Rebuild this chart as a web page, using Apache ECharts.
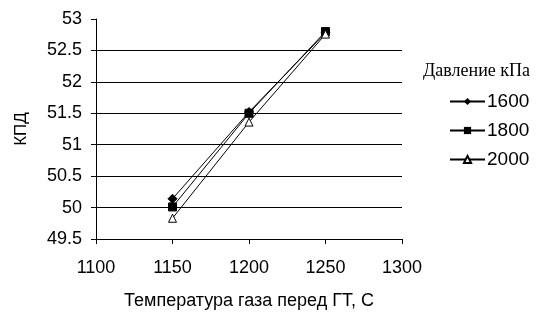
<!DOCTYPE html>
<html>
<head>
<meta charset="utf-8">
<script src="https://cdn.jsdelivr.net/npm/echarts@6/dist/echarts.min.js"></script>
<style>
  html, body { margin: 0; padding: 0; background: #fff; }
  #chart { width: 537px; height: 316px; }
</style>
</head>
<body>
<div id="chart"></div>
<script>
// данные графика
var temps = [1150, 1200, 1250]
var kpd1600 = [50.14, 51.52, 52.78]
var kpd1800 = [50.01, 51.50, 52.80]
var kpd2000 = [49.83, 51.36, 52.76]
var seriesNames = ['1600', '1800', '2000']

function pairs (ys) {
  return temps.map(function (t, i) { return [t, ys[i]] })
}

var myChart = echarts.init(document.getElementById('chart'))
var txt = '#000'
var font = 'Liberation Sans, Arial, sans-serif'

myChart.setOption({
  animation: false,
  grid: { left: 96, right: 135, top: 19, bottom: 77 },
  graphic: [{
    type: 'text',
    left: 423,
    top: 62,
    style: { text: 'Давление кПа', font: '18px "Liberation Serif", "Times New Roman", serif', fill: txt }
  }],
  legend: {
    orient: 'vertical',
    left: 449,
    top: 92,
    padding: 0,
    itemWidth: 35,
    itemHeight: 9,
    itemGap: 10,
    textStyle: { fontFamily: font, fontSize: 19, color: txt, padding: [0, 0, 0, -3] },
    data: seriesNames
  },
  xAxis: {
    type: 'value',
    min: 1100,
    max: 1300,
    interval: 50,
    name: 'Температура газа перед ГТ, С',
    nameLocation: 'middle',
    nameGap: 53,
    nameTextStyle: { fontFamily: font, fontSize: 18, color: txt },
    axisLine: { lineStyle: { color: '#000', width: 1 } },
    axisTick: { length: 5, lineStyle: { color: '#000' } },
    axisLabel: { fontFamily: font, fontSize: 18, color: txt, margin: 20, formatter: function (v) { return String(v) } },
    splitLine: { show: false }
  },
  yAxis: {
    type: 'value',
    min: 49.5,
    max: 53,
    interval: 0.5,
    name: 'КПД',
    nameLocation: 'middle',
    nameGap: 66,
    nameTextStyle: { fontFamily: font, fontSize: 17, color: txt },
    axisLine: { show: true, lineStyle: { color: '#000', width: 1 } },
    axisTick: { show: true, length: 5, lineStyle: { color: '#000' } },
    axisLabel: { fontFamily: font, fontSize: 18, color: txt, margin: 14 },
    splitLine: {
      show: true,
      lineStyle: { color: ['#000', '#000', '#000', '#000', '#000', '#000', '#000', 'rgba(0,0,0,0)'], width: 1 }
    }
  },
  series: [
    {
      name: seriesNames[0],
      type: 'line',
      data: pairs(kpd1600),
      symbol: 'diamond',
      symbolSize: 9,
      lineStyle: { color: '#000', width: 1 },
      itemStyle: { color: '#000', borderColor: '#000' }
    },
    {
      name: seriesNames[1],
      type: 'line',
      data: pairs(kpd1800),
      symbol: 'rect',
      symbolSize: 8,
      lineStyle: { color: '#000', width: 1 },
      itemStyle: { color: '#000', borderColor: '#000' }
    },
    {
      name: seriesNames[2],
      type: 'line',
      data: pairs(kpd2000),
      symbol: 'triangle',
      symbolSize: 8,
      lineStyle: { color: '#000', width: 1 },
      itemStyle: { color: '#fff', borderColor: '#000', borderWidth: 1 }
    }
  ]
})
</script>
</body>
</html>
